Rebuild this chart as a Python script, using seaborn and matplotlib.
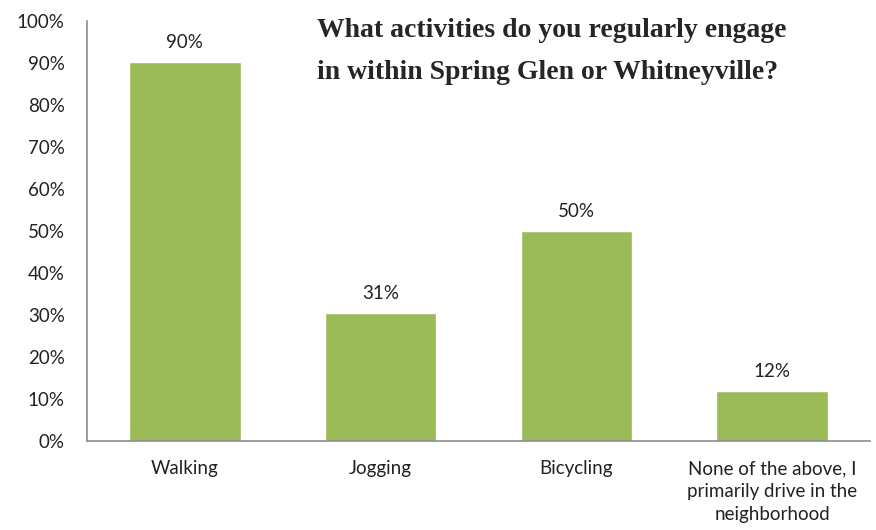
import matplotlib
matplotlib.use("Agg")
import matplotlib.pyplot as plt
import seaborn as sns
import pandas as pd

# --- Data ---
activities = ["Walking", "Jogging", "Bicycling",
              "None of the above, I\nprimarily drive in the\nneighborhood"]
share = [90.2, 30.5, 50.0, 12.0]
share_labels = ["90%", "31%", "50%", "12%"]
y_ticks = list(range(0, 101, 10))
y_tick_labels = [f"{t}%" for t in y_ticks]

df = pd.DataFrame({"activity": activities, "share": share})

sns.set_style("white")
plt.rcParams["font.family"] = ["Lato", "DejaVu Sans"]

fig = plt.figure(figsize=(8.76, 5.30), dpi=100)
ax = fig.add_axes([0.0993, 0.168, 0.8937, 0.792])

sns.barplot(data=df, x="activity", y="share", color="#9BBB59",
            width=0.57, saturation=1, ax=ax)

for patch, lab in zip(ax.patches, share_labels):
    ax.annotate(lab, (patch.get_x() + patch.get_width() / 2, patch.get_height()),
                xytext=(0, 14), textcoords="offset points",
                ha="center", va="center", fontsize=13.5, color="#222222")

ax.set_ylim(0, 100)
ax.set_yticks(y_ticks)
ax.set_yticklabels(y_tick_labels, fontsize=13.5, color="#222222")
for lab in ax.get_xticklabels():
    lab.set_linespacing(1.4)
ax.tick_params(axis="x", labelsize=13.5, colors="#222222", pad=14, length=0)
ax.tick_params(axis="y", pad=16, length=0)
ax.set_xlabel("")
ax.set_ylabel("")

for side in ["top", "right"]:
    ax.spines[side].set_visible(False)
for side in ["left", "bottom"]:
    ax.spines[side].set_color("#8C8C8C")
    ax.spines[side].set_linewidth(1.2)

fig.text(0.362, 0.966, "What activities do you regularly engage\nin within Spring Glen or Whitneyville?",
         ha="left", va="top", fontsize=20, fontweight="bold",
         family=["Liberation Serif", "DejaVu Serif"], color="#262626",
         linespacing=1.9)

plt.savefig("out.png", dpi=100)
